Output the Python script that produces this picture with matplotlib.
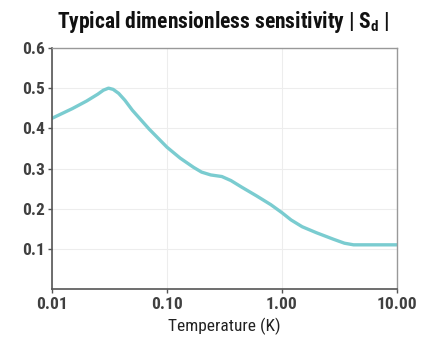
import numpy as np
import matplotlib
matplotlib.use('Agg')
import matplotlib.pyplot as plt
from matplotlib import font_manager
from matplotlib.ticker import FixedLocator, NullLocator

# valeurs
temperature = [0.01, 0.015, 0.02, 0.025, 0.028, 0.031, 0.034, 0.038, 0.043, 0.05,
               0.07, 0.1, 0.13, 0.17, 0.2, 0.24, 0.3, 0.36, 0.45, 0.6,
               0.8, 1.0, 1.2, 1.5, 2.0, 2.8, 3.5, 4.2, 10.0]
sensibilite = [0.425, 0.449, 0.468, 0.485, 0.495, 0.5, 0.497, 0.487, 0.47, 0.445,
               0.398, 0.353, 0.326, 0.303, 0.291, 0.284, 0.28, 0.27, 0.253, 0.232,
               0.21, 0.19, 0.172, 0.155, 0.14, 0.124, 0.114, 0.11, 0.11]
xticks = [0.01, 0.1, 1.0, 10.0]
xlabels = ['0.01', '0.10', '1.00', '10.00']
yticks = [0.1, 0.2, 0.3, 0.4, 0.5, 0.6]

noms = {f.name for f in font_manager.fontManager.ttflist}
etroites = [n for n in ['Liberation Sans Narrow', 'DejaVu Sans Condensed', 'Roboto Condensed']
            if n in noms]
plt.rcParams['font.family'] = etroites + ['DejaVu Sans']
plt.rcParams['font.stretch'] = 'condensed'

fig = plt.figure(figsize=(4.3, 3.37), dpi=100)
ax = fig.add_axes([0.121, 0.1424, 0.802, 0.7152])

ax.plot(temperature, sensibilite, color='#7accd0', lw=2.4,
        solid_capstyle='round', solid_joinstyle='round')
ax.set_xscale('log')
ax.set_xlim(0.01, 10)
ax.set_ylim(0, 0.6)
ax.xaxis.set_major_locator(FixedLocator(xticks))
ax.xaxis.set_minor_locator(NullLocator())
ax.set_xticklabels(xlabels)
ax.set_yticks(yticks)
ax.set_yticklabels([f'{v:.1f}' for v in yticks])
ax.grid(True, color='#ededed', lw=0.8)
ax.set_axisbelow(True)

for side in ['left', 'bottom']:
    ax.spines[side].set_color('#555555')
    ax.spines[side].set_linewidth(1.2)
for side in ['top', 'right']:
    ax.spines[side].set_color('#999999')
    ax.spines[side].set_linewidth(1.0)

ax.tick_params(direction='out', length=3, width=1, color='#555555',
               labelsize=12.5, labelcolor='#404040', pad=2)
ax.tick_params(axis='x', pad=3)
for lab in ax.get_xticklabels() + ax.get_yticklabels():
    lab.set_fontweight('bold')

ax.set_xlabel('Temperature (K)', fontsize=12.5, color='#222222', labelpad=4)
fig.text(0.52, 0.935, 'Typical dimensionless sensitivity | S$_\\mathregular{d}$ |',
         ha='center', va='center', fontsize=15.5, fontweight='heavy', color='#111111')

plt.savefig('out.png', dpi=100)
plt.close()
